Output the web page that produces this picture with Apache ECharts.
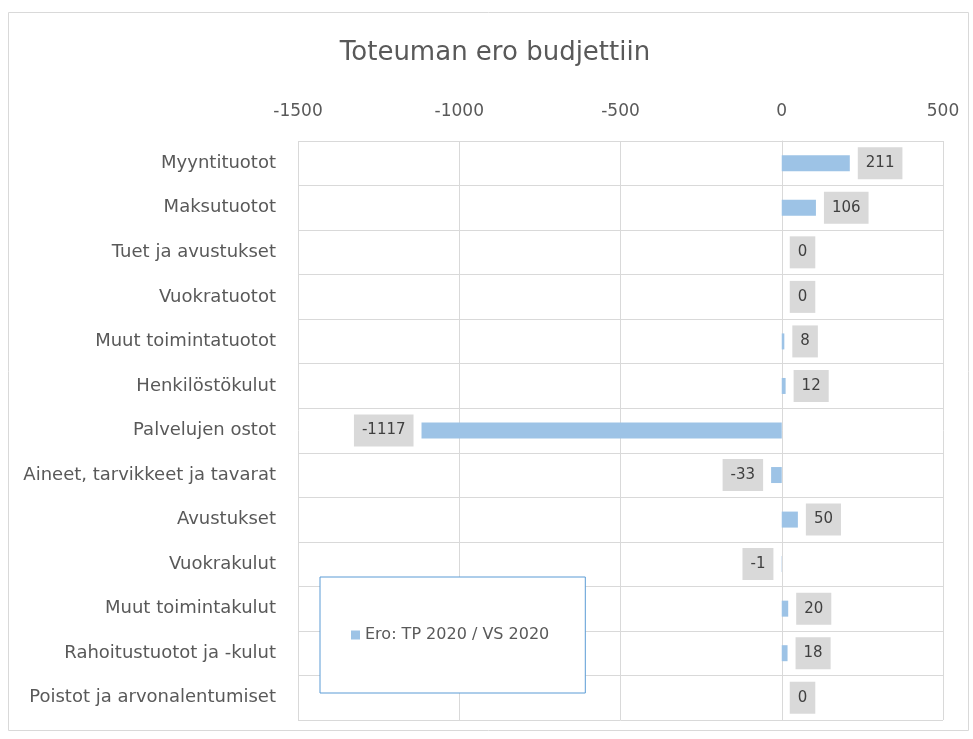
<!DOCTYPE html>
<html>
<head>
<meta charset="utf-8">
<title>Toteuman ero budjettiin</title>
<script src="https://cdn.jsdelivr.net/npm/echarts@6/dist/echarts.min.js"></script>
<style>
  html, body { margin: 0; padding: 0; background: #fff; }
  #chart { width: 973px; height: 739px; }
</style>
</head>
<body>
<div id="chart"></div>
<script>
// rivit ylhäältä alas
var categories = [
  "Myyntituotot",
  "Maksutuotot",
  "Tuet ja avustukset",
  "Vuokratuotot",
  "Muut toimintatuotot",
  "Henkilöstökulut",
  "Palvelujen ostot",
  "Aineet, tarvikkeet ja tavarat",
  "Avustukset",
  "Vuokrakulut",
  "Muut toimintakulut",
  "Rahoitustuotot ja -kulut",
  "Poistot ja arvonalentumiset"
];
var eroValues = [211, 106, 0, 0, 8, 12, -1117, -33, 50, -1, 20, 18, 0];
var seriesName = "Ero: TP 2020 / VS 2020";

var font = "'DejaVu Sans', sans-serif";
var textColor = "#595959";

var chart = echarts.init(document.getElementById("chart"));

// negatiiviset arvot: label vasemmalle
var barData = eroValues.map(function (v) {
  return {
    value: v,
    label: { position: v < 0 ? "left" : "right" }
  };
});

var option = {
  animation: false,
  title: {
    text: "Toteuman ero budjettiin",
    left: 490,
    textAlign: "center",
    top: 35,
    textStyle: { fontFamily: font, fontSize: 26, fontWeight: "normal", color: textColor }
  },
  graphic: [
    {
      type: "rect",
      shape: { x: 8.5, y: 12.5, width: 960, height: 718 },
      style: { fill: "none", stroke: "#d9d9d9", lineWidth: 1 },
      silent: true
    }
  ],
  legend: {
    data: [seriesName],
    left: 320,
    top: 577,
    orient: "vertical",
    backgroundColor: "#fff",
    borderColor: "#5b9bd5",
    borderWidth: 1,
    padding: [50, 36, 50, 31],
    itemWidth: 9,
    itemHeight: 9,
    itemGap: 0,
    icon: "rect",
    textStyle: { fontFamily: font, fontSize: 16, color: textColor }
  },
  grid: { left: 298, right: 30, top: 141, bottom: 19, containLabel: false },
  xAxis: {
    type: "value",
    position: "top",
    min: -1500,
    max: 500,
    interval: 500,
    axisLine: { show: false },
    axisTick: { show: false },
    axisLabel: {
      fontFamily: font, fontSize: 17, color: textColor, margin: 21,
      formatter: function (v) { return String(v); }
    },
    splitLine: { show: true, lineStyle: { color: "#d9d9d9", width: 1 } }
  },
  yAxis: {
    type: "category",
    data: categories,
    inverse: true,
    axisLine: { show: true, onZero: true, lineStyle: { color: "#d9d9d9" } },
    axisTick: { show: false },
    axisLabel: { fontFamily: font, fontSize: 18, color: textColor, margin: 22 },
    splitLine: { show: true, lineStyle: { color: "#d9d9d9", width: 1 } }
  },
  series: [
    {
      name: seriesName,
      type: "bar",
      data: barData,
      barWidth: 16,
      itemStyle: { color: "#9dc3e6" },
      label: {
        show: true,
        distance: 8,
        fontFamily: font,
        fontSize: 15,
        color: "#404040",
        backgroundColor: "#d9d9d9",
        padding: [9, 8, 8, 8]
      }
    }
  ]
};

chart.setOption(option);
</script>
</body>
</html>
